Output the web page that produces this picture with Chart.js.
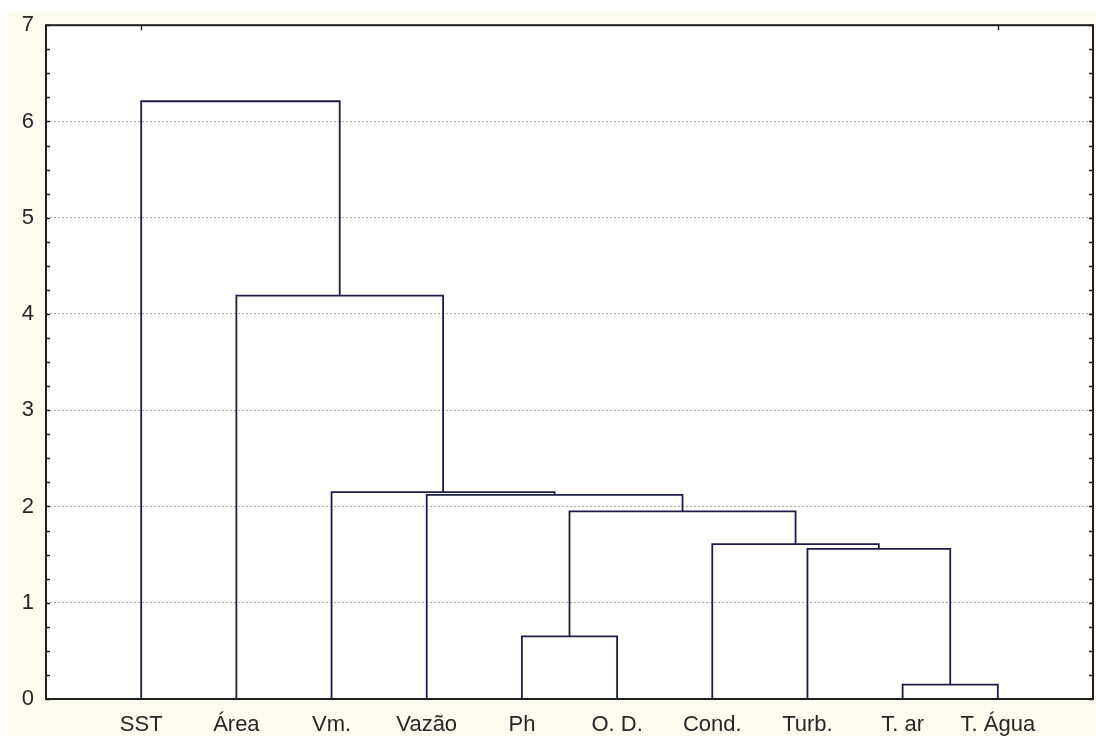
<!DOCTYPE html>
<html>
<head>
<meta charset="utf-8">
<script src="https://cdn.jsdelivr.net/npm/chart.js@4"></script>
<style>
  html, body { margin: 0; padding: 0; background: #ffffff; }
  #wrap { width: 1096px; height: 738px; position: relative; }
</style>
</head>
<body>
<div id="wrap"><canvas id="c"></canvas></div>
<script>
// Variables in leaf order along the horizontal axis
const leaves = ['SST', 'Área', 'Vm.', 'Vazão', 'Ph', 'O. D.', 'Cond.', 'Turb.', 'T. ar', 'T. Água'];

// Agglomeration steps: node ids 0-9 are leaves, node 10 + k is the cluster made at step k
const mergeLeft   = [8, 4, 7, 6, 11, 3, 2, 1, 0];
const mergeRight  = [9, 5, 10, 12, 13, 14, 15, 16, 17];
const mergeHeight = [0.15, 0.65, 1.56, 1.61, 1.95, 2.12, 2.15, 4.19, 6.21];

// Linkage distance axis
const yTicks = [0, 1, 2, 3, 4, 5, 6, 7];
const yMinorStep = 0.25;

const LINE = '#1d1d4a';
const CREAM = '#fdfaf0';
const FONT = "'Liberation Sans', Arial, sans-serif";

// position and height of every node of the tree
const nodeX = leaves.map((_, i) => i);
const nodeH = leaves.map(() => 0);
const links = [];
mergeHeight.forEach((h, k) => {
  const a = mergeLeft[k], b = mergeRight[k];
  links.push([
    { x: nodeX[a], y: nodeH[a] },
    { x: nodeX[a], y: h },
    { x: nodeX[b], y: h },
    { x: nodeX[b], y: nodeH[b] }
  ]);
  nodeX.push((nodeX[a] + nodeX[b]) / 2);
  nodeH.push(h);
});

const datasets = links.map((pts, k) => ({
  label: 'step ' + (k + 1),
  data: pts,
  showLine: true,
  borderColor: LINE,
  borderWidth: 1.8,
  pointRadius: 0,
  fill: false,
  tension: 0
}));

const framePlugin = {
  id: 'frame',
  beforeDraw(chart) {
    const { ctx, chartArea: a } = chart;
    ctx.save();
    ctx.fillStyle = '#ffffff';
    ctx.fillRect(0, 0, chart.width, chart.height);
    ctx.fillStyle = CREAM;
    ctx.fillRect(8, 12, chart.width - 8, chart.height - 14);
    ctx.fillStyle = '#ffffff';
    ctx.fillRect(a.left, a.top, a.right - a.left, a.bottom - a.top);
    ctx.restore();
  },
  afterDatasetsDraw(chart) {
    const { ctx, chartArea: a, scales } = chart;
    const ys = scales.y, xs = scales.x;
    ctx.save();
    ctx.strokeStyle = '#1e1e1e';
    ctx.lineWidth = 2;
    ctx.strokeRect(a.left, a.top, a.right - a.left, a.bottom - a.top);
    ctx.lineWidth = 1.4;
    ctx.beginPath();
    for (let v = ys.min; v <= ys.max + 1e-9; v += yMinorStep) {
      const py = Math.round(ys.getPixelForValue(v)) + 0.5;
      ctx.moveTo(a.left, py); ctx.lineTo(a.left + 4, py);
      ctx.moveTo(a.right, py); ctx.lineTo(a.right - 4, py);
    }
    [0, leaves.length - 1].forEach(i => {
      const px = Math.round(xs.getPixelForValue(i)) + 0.5;
      ctx.moveTo(px, a.top); ctx.lineTo(px, a.top + 5);
    });
    ctx.stroke();
    ctx.restore();
  }
};

new Chart(document.getElementById('c'), {
  type: 'scatter',
  data: { datasets },
  options: {
    responsive: true,
    maintainAspectRatio: false,
    animation: false,
    layout: { padding: { top: 25, right: 3, left: 0, bottom: 0 } },
    plugins: {
      legend: { display: false },
      tooltip: { enabled: false }
    },
    scales: {
      x: {
        type: 'linear',
        min: -1,
        max: leaves.length,
        afterBuildTicks(scale) {
          scale.ticks = leaves.map((_, i) => ({ value: i }));
        },
        afterFit(scale) { scale.height = 39; },
        grid: { display: false, drawTicks: false },
        border: { display: false },
        ticks: {
          autoSkip: false,
          maxRotation: 0,
          padding: 13,
          color: '#262626',
          font: { family: FONT, size: 22 },
          callback: v => leaves[v] ?? ''
        }
      },
      y: {
        type: 'linear',
        min: yTicks[0],
        max: yTicks[yTicks.length - 1],
        afterBuildTicks(scale) {
          scale.ticks = yTicks.map(v => ({ value: v }));
        },
        afterFit(scale) { scale.width = 46; },
        grid: {
          drawTicks: false,
          lineWidth: 1,
          color: c => (c.tick && c.tick.value > yTicks[0] && c.tick.value < yTicks[yTicks.length - 1]) ? '#a8a8a8' : 'rgba(0,0,0,0)'
        },
        border: { display: false, dash: [2, 2] },
        ticks: {
          padding: 12,
          color: '#262626',
          font: { family: FONT, size: 22 }
        }
      }
    }
  },
  plugins: [framePlugin]
});
</script>
</body>
</html>
